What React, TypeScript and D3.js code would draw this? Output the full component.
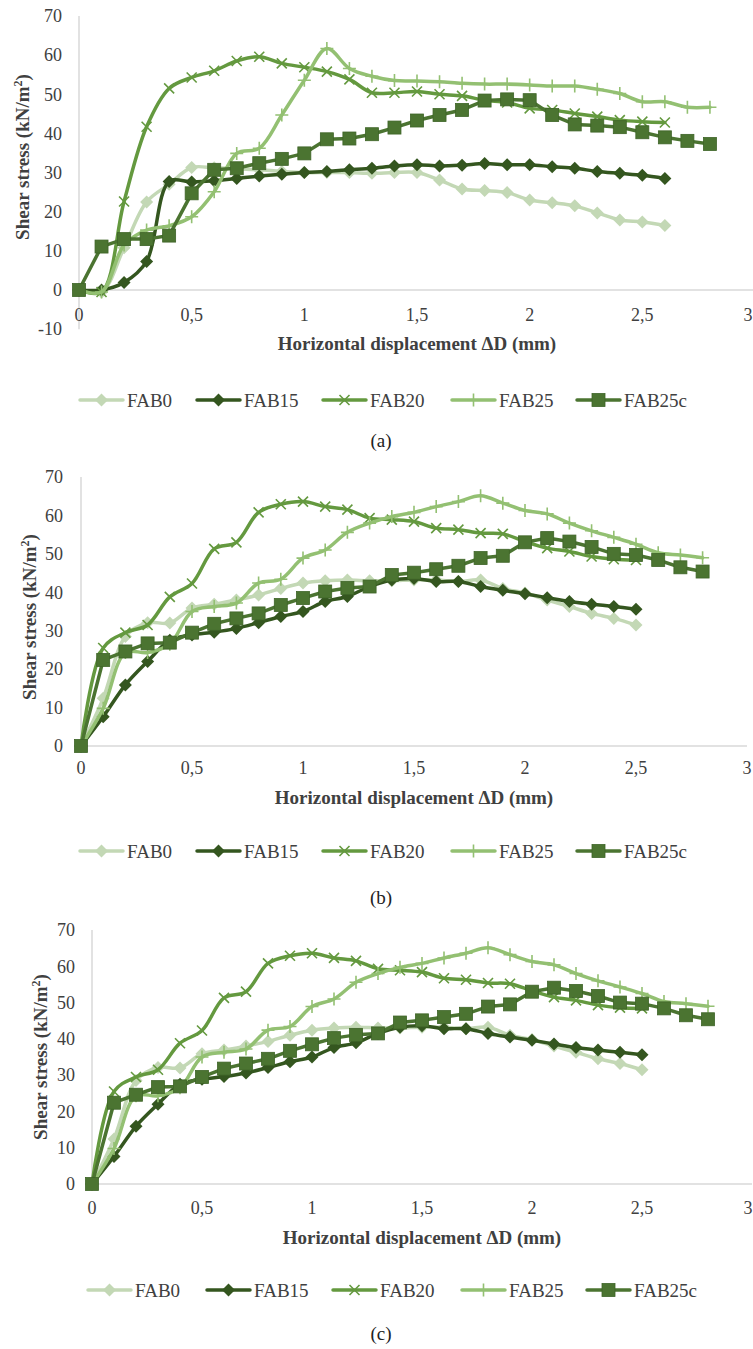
import React from "react";
import * as d3 from "d3";

// horizontal displacement (mm), one reading every 0.1 mm
const DISP = [0, 0.1, 0.2, 0.3, 0.4, 0.5, 0.6, 0.7, 0.8, 0.9, 1.0, 1.1, 1.2, 1.3, 1.4,
  1.5, 1.6, 1.7, 1.8, 1.9, 2.0, 2.1, 2.2, 2.3, 2.4, 2.5, 2.6, 2.7, 2.8];

const X_TICKS = [0, 0.5, 1, 1.5, 2, 2.5, 3];
const Y_TICKS_A = [-10, 0, 10, 20, 30, 40, 50, 60, 70];
const Y_TICKS = [0, 10, 20, 30, 40, 50, 60, 70];

const NAMES = ["FAB0", "FAB15", "FAB20", "FAB25", "FAB25c"];
const COLORS = ["#c3d8b5", "#34561f", "#64993f", "#93c072", "#4b7431"];
const MARKERS = ["diamond", "diamond", "x", "plus", "square"];
const SMOOTH = [true, true, true, true, false];

// panel (a)
const FAB0_A = [0, -0.5, 10.8, 22.5, 27, 31.3, 31.2, 31, 30.7, 30.3, 30, 30, 30, 29.8, 30, 30, 28.1, 25.8, 25.4, 24.9, 23, 22.3, 21.5, 19.7, 17.9, 17.4, 16.5];
const FAB15_A = [0, 0, 1.9, 7.3, 27.7, 27.6, 27.9, 28.5, 29.1, 29.6, 30, 30.3, 30.7, 31.1, 31.7, 32, 31.7, 31.9, 32.3, 32, 32, 31.5, 31.1, 30.3, 29.8, 29.3, 28.5];
const FAB20_A = [0, -0.5, 22.6, 41.7, 51.5, 54.3, 56, 58.5, 59.6, 57.9, 56.9, 55.8, 53.8, 50.4, 50.4, 50.7, 50, 49.6, 48.5, 47.9, 46.4, 46, 45.1, 44.3, 43.4, 43, 42.8];
const FAB25_A = [0, -0.5, 11.5, 15.3, 16.4, 18.7, 25.1, 34.9, 36.2, 44.7, 53.6, 61.7, 56.6, 54.6, 53.5, 53.4, 53.2, 52.8, 52.6, 52.6, 52.4, 52.1, 52.1, 51.3, 50.2, 48.1, 48.1, 46.7, 46.7];
const FAB25C_A = [0, 11.1, 13, 13, 13.9, 24.7, 30.7, 31.1, 32.4, 33.5, 34.9, 38.5, 38.7, 39.8, 41.5, 43.3, 44.7, 46, 48.4, 48.7, 48.5, 44.7, 42.3, 42, 41.6, 40.3, 39, 38.1, 37.3];

// panels (b) and (c) show the same readings
const FAB0_B = [0, 12.4, 28.5, 32.1, 32, 35.9, 36.9, 38, 39.3, 41, 42.4, 43, 43.2, 43, 43, 43.2, 43.2, 42.8, 43.2, 41, 39.8, 38, 36.3, 34.5, 33.2, 31.5];
const FAB15_B = [0, 7.6, 15.9, 22, 27.5, 28.9, 29.6, 30.6, 32.1, 33.7, 35, 37.6, 38.9, 41.5, 43.2, 43.6, 42.8, 42.8, 41.5, 40.5, 39.6, 38.6, 37.6, 36.9, 36.3, 35.6];
const FAB20_B = [0, 25.5, 29.5, 31.5, 38.8, 42.3, 51.3, 53, 60.8, 62.9, 63.6, 62.3, 61.5, 59.3, 58.9, 58.4, 56.7, 56.3, 55.4, 55.2, 53.2, 51.5, 50.6, 49.3, 48.6, 48.4];
const FAB25_B = [0, 9.8, 24.3, 24.3, 26.5, 35, 36.3, 37.2, 42.4, 43.4, 48.9, 51, 55.6, 58, 59.7, 60.8, 62.3, 63.6, 65.1, 63.2, 61.3, 60.4, 58, 56, 54.3, 52.5, 50.3, 49.7, 49];
const FAB25C_B = [0, 22.4, 24.6, 26.7, 26.9, 29.5, 31.8, 33.2, 34.5, 36.7, 38.5, 40.2, 41.1, 41.5, 44.5, 45.1, 46, 46.9, 48.9, 49.5, 53, 54.1, 53.2, 51.8, 50, 49.7, 48.4, 46.5, 45.4];

const SERIES_A = [FAB0_A, FAB15_A, FAB20_A, FAB25_A, FAB25C_A];
const SERIES_B = [FAB0_B, FAB15_B, FAB20_B, FAB25_B, FAB25C_B];

const FONT = "'Liberation Serif', 'Times New Roman', serif";
const TEXT = "#404040";
const AXIS = "#d9d9d9";
const W = 753;

const PANELS = [
  { id: "(a)", series: SERIES_A, yTicks: Y_TICKS_A, x0: 79, x1: 755, yTop: 16, yZero: 290, labelRight: 62,
    tickY: 315, titleY: 343, yTitleX: 22, yTitleY: 157, legendY: 400, legendX: [80, 197, 323, 452, 577], captionY: 440 },
  { id: "(b)", series: SERIES_B, yTicks: Y_TICKS, x0: 81, x1: 747, yTop: 477, yZero: 746, labelRight: 63,
    tickY: 768, titleY: 797, yTitleX: 29, yTitleY: 617, legendY: 851, legendX: [80, 197, 323, 452, 577], captionY: 897 },
  { id: "(c)", series: SERIES_B, yTicks: Y_TICKS, x0: 92, x1: 752, yTop: 930, yZero: 1184, labelRight: 75,
    tickY: 1208, titleY: 1237, yTitleX: 40, yTitleY: 1057, legendY: 1290, legendX: [88, 207, 333, 462, 587], captionY: 1333 },
];

const Marker = ({ kind, color, cx, cy }: { kind: string; color: string; cx: number; cy: number }) => {
  if (kind === "diamond") {
    const s = 6.5;
    return <path d={`M${cx},${cy - s}L${cx + s},${cy}L${cx},${cy + s}L${cx - s},${cy}Z`} fill={color} />;
  }
  if (kind === "square") {
    const s = 6.5;
    return <rect x={cx - s} y={cy - s} width={2 * s} height={2 * s} fill={color} stroke="#3e6427" strokeWidth={0.8} />;
  }
  if (kind === "x") {
    const s = 5;
    return <path d={`M${cx - s},${cy - s}L${cx + s},${cy + s}M${cx - s},${cy + s}L${cx + s},${cy - s}`} stroke={color} strokeWidth={1.6} fill="none" />;
  }
  const s = 6.5;
  return <path d={`M${cx},${cy - s}L${cx},${cy + s}M${cx - s},${cy}L${cx + s},${cy}`} stroke={color} strokeWidth={1.6} fill="none" />;
};

const Panel = ({ p }: { p: any }) => {
  const x = d3.scaleLinear().domain([0, 3]).range([p.x0, p.x1]);
  const y = d3.scaleLinear().domain([0, 70]).range([p.yZero, p.yTop]);
  const yMin = d3.min(p.yTicks as number[]) as number;

  return (
    <g>
      {/* axes */}
      <line x1={p.x0} x2={p.x0} y1={y(70)} y2={y(yMin)} stroke={AXIS} strokeWidth={1.5} />
      <line x1={p.x0} x2={x(3)} y1={y(0)} y2={y(0)} stroke={AXIS} strokeWidth={1.5} />

      {p.yTicks.map((t: number) => (
        <text key={"y" + t} x={p.labelRight} y={y(t)} dy="0.35em" textAnchor="end" fontSize={18} fill={TEXT}>{t}</text>
      ))}
      {X_TICKS.map((t) => (
        // last label sits on the page edge, keep it just inside
        <text key={"x" + t} x={Math.min(x(t), W - 5)} y={p.tickY} dy="0.35em" textAnchor="middle" fontSize={18} fill={TEXT}>
          {String(t).replace(".", ",")}
        </text>
      ))}

      <text x={(p.x0 + p.x1) / 2} y={p.titleY} dy="0.35em" textAnchor="middle" fontSize={19} fontWeight="bold" fill={TEXT}>
        Horizontal displacement ΔD (mm)
      </text>
      <text transform={`translate(${p.yTitleX},${p.yTitleY}) rotate(-90)`} dy="0.35em" textAnchor="middle" fontSize={19} fontWeight="bold" fill={TEXT}>
        Shear stress (kN/m<tspan fontSize={12} dy="-7">2</tspan><tspan dy="7">)</tspan>
      </text>

      {/* series */}
      {p.series.map((vals: number[], i: number) => {
        const pts = vals.map((v, k) => [DISP[k], v] as [number, number]);
        const line = d3.line<[number, number]>()
          .x((d) => x(d[0]))
          .y((d) => y(d[1]))
          .curve(SMOOTH[i] ? d3.curveCatmullRom.alpha(0.5) : d3.curveLinear);
        return (
          <g key={NAMES[i]}>
            <path d={line(pts) || ""} fill="none" stroke={COLORS[i]} strokeWidth={3.5} strokeLinejoin="round" strokeLinecap="round" />
            {pts.map((d, k) => (
              <Marker key={k} kind={MARKERS[i]} color={COLORS[i]} cx={x(d[0])} cy={y(d[1])} />
            ))}
          </g>
        );
      })}

      {/* legend */}
      {NAMES.map((name, i) => {
        const lx = p.legendX[i];
        return (
          <g key={"lg" + name}>
            <line x1={lx} x2={lx + 43} y1={p.legendY} y2={p.legendY} stroke={COLORS[i]} strokeWidth={3.5} strokeLinecap="round" />
            <Marker kind={MARKERS[i]} color={COLORS[i]} cx={lx + 21.5} cy={p.legendY} />
            <text x={lx + 47} y={p.legendY} dy="0.35em" fontSize={19} fill={TEXT}>{name}</text>
          </g>
        );
      })}

      <text x={381} y={p.captionY} dy="0.35em" textAnchor="middle" fontSize={19} fill="#222">{p.id}</text>
    </g>
  );
};

export default function App() {
  return (
    <svg width={W} height={1349} style={{ position: "absolute", left: 0, top: 0, background: "#fff" }} fontFamily={FONT}>
      <rect width={W} height={1349} fill="#fff" />
      {PANELS.map((p) => (
        <Panel key={p.id} p={p} />
      ))}
    </svg>
  );
}
